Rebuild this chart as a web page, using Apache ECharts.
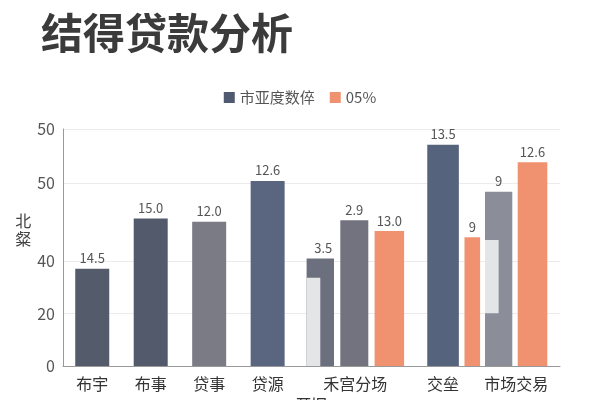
<!DOCTYPE html>
<html><head><meta charset="utf-8">
<script src="https://cdn.jsdelivr.net/npm/echarts@6/dist/echarts.min.js"></script>
<style>html,body{margin:0;padding:0;background:#fff}#c{width:600px;height:400px}</style>
</head><body><div id="c"></div>
<script>
// ---------------- data ----------------
const titleText = '结得贷款分析';
const legendNames = ['市亚度数倅', '05%'];
const categories = ['布宇', '布事', '贷事', '贷源', '禾宫分场', '交垒', '市场交易'];
const yAxisName = '北\n粲';
const xAxisName = '开旧';
// values read on the implied linear scale (0 / 20 / 40 gridlines)
const singleValues = [37.1, 56.2, 55.0, 70.5];
const singleLabels = ['14.5', '15.0', '12.0', '12.6'];
const groupAValues = [41.0, 55.5, 51.4];
const groupALabels = ['3.5', '2.9', '13.0'];
const groupAOverlay = [0, 33.6];
const groupBValues = [84.3, 49.1];
const groupBLabels = ['13.5', '9'];
const groupCValues = [66.4, 77.6];
const groupCLabels = ['9', '12.6'];
const groupCOverlay = [20.1, 48.0];
const yTickValues = [0, 20, 40, 69.8, 90.3];
const yTickLabels = ['0', '20', '40', '50', '50'];

// ---------------- styles / layout ----------------
const singleColors = ['#545b6a', '#525a6c', '#7b7b86', '#5a6680'];
const ORANGE = '#f0916f', LIGHT = '#e4e5e7';
const SLOTS = 35;
const catSlot = [2, 6, 10, 14, 20, 26, 31];
const orange9Slot = 28;
const slotLabels = Array(SLOTS).fill('');
catSlot.forEach((s, i) => { slotLabels[s] = categories[i]; });

function col(pairs) {
  const a = Array(SLOTS).fill('-');
  pairs.forEach(p => { a[p[0]] = p[1]; });
  return a;
}
const lbl = { show: true, position: 'top', distance: 4, fontSize: 13, color: '#555' };
function labelOf(text, offset) {
  return Object.assign({}, lbl, { formatter: () => text, offset: offset || [0, 0] });
}
function pad(axis, w) { return { type: 'bar', xAxisIndex: axis, barWidth: w, data: [], silent: true }; }

const series = [];
// axis 0 : four single bars
series.push({
  name: legendNames[0], type: 'bar', xAxisIndex: 0, barWidth: 34,
  itemStyle: { color: '#4f5a70' },
  data: col(singleValues.map((v, i) => [catSlot[i], { value: v, itemStyle: { color: singleColors[i] } }])),
  label: Object.assign({}, lbl, { formatter: p => singleLabels[catSlot.indexOf(p.dataIndex)] })
});

// axis 1 : 禾宫分场 group ; axis 5 : its light band
const sA = catSlot[4];
const wA = [27.4, 6.3, 28, 6.3, 29.5];
series.push({ type: 'bar', xAxisIndex: 1, barWidth: wA[0], barGap: '0%', itemStyle: { color: '#6b6f7e' }, data: col([[sA, groupAValues[0]]]), label: labelOf(groupALabels[0], [3, 0]) });
series.push(pad(1, wA[1]));
series.push({ type: 'bar', xAxisIndex: 1, barWidth: wA[2], itemStyle: { color: '#72737f' }, data: col([[sA, groupAValues[1]]]), label: labelOf(groupALabels[1]) });
series.push(pad(1, wA[3]));
series.push({ name: legendNames[1], type: 'bar', xAxisIndex: 1, barWidth: wA[4], barGap: '0%', itemStyle: { color: ORANGE }, data: col([[sA, groupAValues[2]]]), label: labelOf(groupALabels[2]) });

series.push({ type: 'bar', xAxisIndex: 5, stack: 'aL', barWidth: wA[0] / 2, barGap: '0%', itemStyle: { color: 'rgba(0,0,0,0)' }, data: col([[sA, groupAOverlay[0]]]), silent: true, z: 3 });
series.push({ type: 'bar', xAxisIndex: 5, stack: 'aL', barWidth: wA[0] / 2, itemStyle: { color: LIGHT }, data: col([[sA, groupAOverlay[1] - groupAOverlay[0]]]), z: 3 });
series.push(pad(5, wA[0] / 2));
wA.slice(1).forEach(w => series.push(pad(5, w)));
series[series.length - 1].barGap = '0%';

// axis 2 : 交垒 dark
series.push({ type: 'bar', xAxisIndex: 2, barWidth: 31.6, itemStyle: { color: '#56637d' }, data: col([[catSlot[5], groupBValues[0]]]), label: labelOf(groupBLabels[0]) });
// axis 3 : 交垒 orange
series.push({ name: legendNames[1], type: 'bar', xAxisIndex: 3, barWidth: 15.6, itemStyle: { color: ORANGE }, data: col([[orange9Slot, groupBValues[1]]]), label: labelOf(groupBLabels[1]) });

// axis 4 : 市场交易 group ; axis 6 : its light band
const sC = catSlot[6];
const wC = [27.3, 5.4, 29.6];
series.push({ type: 'bar', xAxisIndex: 4, barWidth: wC[0], barGap: '0%', itemStyle: { color: '#8b8e99' }, data: col([[sC, groupCValues[0]]]), label: labelOf(groupCLabels[0]) });
series.push(pad(4, wC[1]));
series.push({ name: legendNames[1], type: 'bar', xAxisIndex: 4, barWidth: wC[2], barGap: '0%', itemStyle: { color: ORANGE }, data: col([[sC, groupCValues[1]]]), label: labelOf(groupCLabels[1]) });

series.push({ type: 'bar', xAxisIndex: 6, stack: 'cL', barWidth: wC[0] / 2, barGap: '0%', itemStyle: { color: 'rgba(0,0,0,0)' }, data: col([[sC, groupCOverlay[0]]]), silent: true, z: 3 });
series.push({ type: 'bar', xAxisIndex: 6, stack: 'cL', barWidth: wC[0] / 2, itemStyle: { color: LIGHT }, data: col([[sC, groupCOverlay[1] - groupCOverlay[0]]]), z: 3 });
series.push(pad(6, wC[0] / 2));
wC.slice(1).forEach(w => series.push(pad(6, w)));
series[series.length - 1].barGap = '0%';

function hiddenX() {
  return { type: 'category', data: slotLabels, boundaryGap: false, show: false, gridIndex: 0 };
}

const chart = echarts.init(document.getElementById('c'), null, { renderer: 'canvas' });
chart.setOption({
  animation: false,
  backgroundColor: '#fff',
  textStyle: { fontFamily: 'Noto Sans CJK SC' },
  title: { text: titleText, left: 36, top: 7, textStyle: { fontSize: 42, fontWeight: 'bold', color: '#3b3b3b', fontFamily: 'Noto Sans CJK SC' } },
  legend: {
    data: [{ name: legendNames[0], itemStyle: { color: '#4f5a70' } }, { name: legendNames[1], itemStyle: { color: ORANGE } }],
    top: 85, left: 'center', icon: 'rect', itemWidth: 11, itemHeight: 11, itemGap: 15,
    textStyle: { fontSize: 15, color: '#555' }
  },
  grid: { left: 63, right: 40, top: 129, bottom: 34, outerBoundsMode: 'none' },
  xAxis: [
    {
      type: 'category', data: slotLabels, boundaryGap: false, gridIndex: 0,
      name: xAxisName, nameLocation: 'middle', nameGap: 27, nameTextStyle: { fontSize: 16, color: '#333' },
      axisLine: { show: true, lineStyle: { color: '#999' } },
      axisTick: { show: false },
      axisLabel: { interval: 0, fontSize: 16, color: '#333', margin: 10 },
      splitLine: { show: false }
    },
    hiddenX(), hiddenX(), hiddenX(), hiddenX(), hiddenX(), hiddenX()
  ],
  yAxis: {
    type: 'value', min: 0, max: yTickValues[yTickValues.length - 1],
    name: yAxisName, nameLocation: 'middle', nameRotate: 0, nameGap: 24,
    nameTextStyle: { fontSize: 16, color: '#444', lineHeight: 18, verticalAlign: 'bottom' },
    axisLine: { show: true, lineStyle: { color: '#999' } },
    axisTick: { show: false, customValues: yTickValues },
    axisLabel: {
      customValues: yTickValues, fontSize: 16, color: '#555', margin: 8,
      formatter: v => {
        let best = 0;
        yTickValues.forEach((t, i) => { if (Math.abs(t - v) < Math.abs(yTickValues[best] - v)) best = i; });
        return yTickLabels[best];
      }
    },
    splitLine: { show: true, lineStyle: { color: '#ebebeb' } }
  },
  series: series
});
</script></body></html>
